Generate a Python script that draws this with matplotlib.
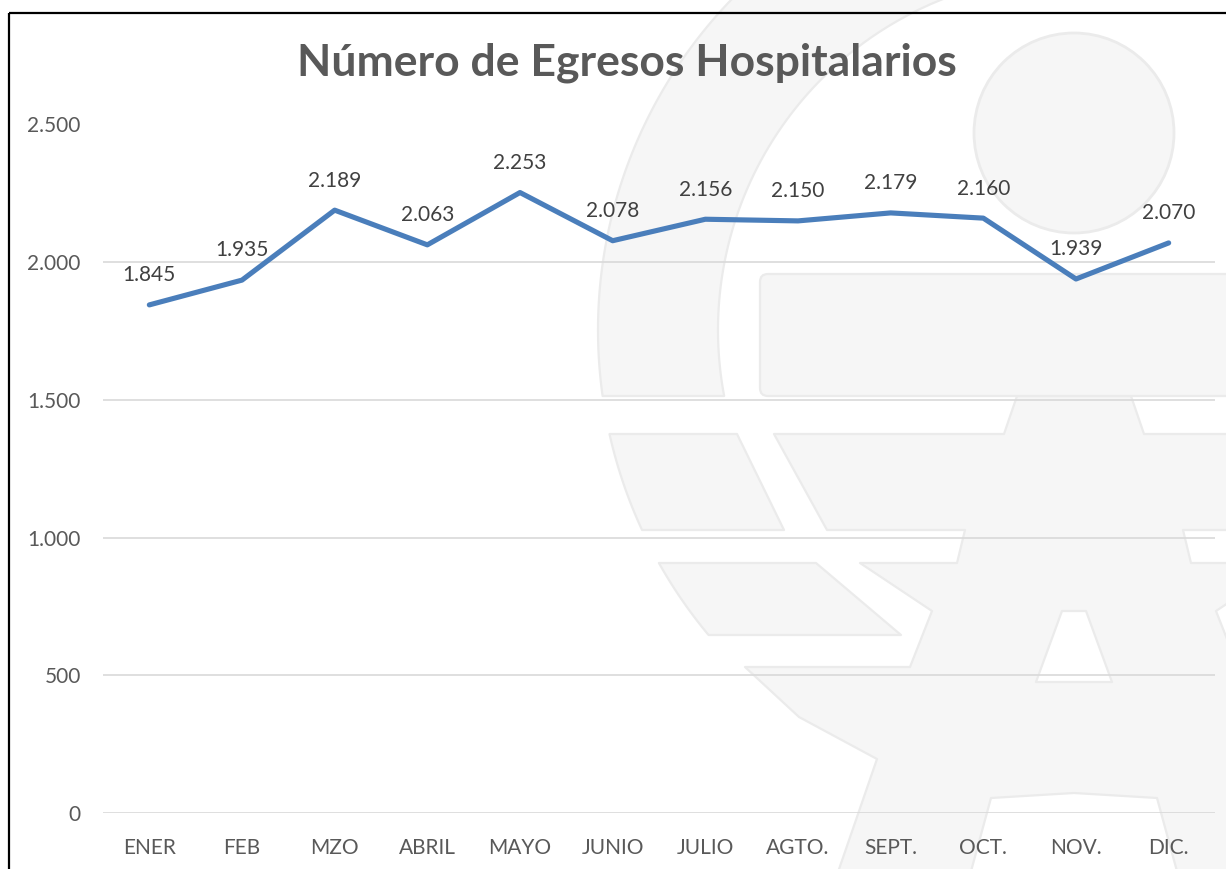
import numpy as np
import matplotlib
matplotlib.use("Agg")
import matplotlib.pyplot as plt
from matplotlib.patches import Polygon, Circle, FancyBboxPatch

months = ["ENER", "FEB", "MZO", "ABRIL", "MAYO", "JUNIO", "JULIO", "AGTO.",
          "SEPT.", "OCT.", "NOV.", "DIC."]
egresos = [1845, 1935, 2189, 2063, 2253, 2078, 2156, 2150, 2179, 2160, 1939, 2070]
y_ticks = [0, 500, 1000, 1500, 2000, 2500]
y_tick_labels = ["0", "500", "1.000", "1.500", "2.000", "2.500"]
title = "Número de Egresos Hospitalarios"

W, H = 1226, 869
fig = plt.figure(figsize=(W / 100, H / 100), dpi=100)
fig.patch.set_facecolor("white")

# ---- background watermark (decorative) in pixel space ----
bg = fig.add_axes([0, 0, 1, 1], zorder=0)
bg.set_xlim(0, W)
bg.set_ylim(H, 0)
bg.axis("off")
wm_face = "#F6F6F6"
wm_edge = "#EBEBEB"
CX, CY, RO, RI = 1074, 330, 476, 356


def outer_x(y):
    return CX - np.sqrt(RO ** 2 - (y - CY) ** 2)


def inner_x(y):
    return CX - np.sqrt(RI ** 2 - (y - CY) ** 2)


def shape(pts):
    bg.add_patch(Polygon(pts, closed=True, fc=wm_face, ec=wm_edge, lw=1.6,
                         joinstyle="round"))


# ring, upper part (top of image to y=396)
ys = np.linspace(-40, 396, 80)
pts = [(outer_x(y), y) for y in ys] + [(inner_x(y), y) for y in ys[::-1]]
shape(pts)
# ring segment B
ys = np.linspace(434, 530, 30)
shape([(outer_x(y), y) for y in ys] + [(784, 530), (737, 434)])
# ring segment C
ys = np.linspace(563, 635, 30)
shape([(outer_x(y), y) for y in ys] + [(901, 635), (816, 563)])
# circle
bg.add_patch(Circle((1074, 133), 100, fc=wm_face, ec=wm_edge, lw=2))
# star (symmetric about x=1074)
left_half = [(1017, 396), (1004, 434), (774, 434), (827, 530), (965, 530), (957, 563),
             (860, 563), (932, 611), (910, 667), (745, 667), (799, 717), (877, 759),
             (837, 875), (970, 875), (991, 798)]
right_half = [(2 * CX - x, y) for (x, y) in left_half[::-1]]
shape(left_half + [(1074, 793)] + right_half)
# bar
bg.add_patch(FancyBboxPatch((760, 274), 520, 122, boxstyle="round,pad=0,rounding_size=8",
                            fc=wm_face, ec=wm_edge, lw=1.6))
# triangle hole
bg.add_patch(Polygon([(1062, 611), (1086, 611), (1112, 682), (1036, 682)], closed=True,
                     fc="white", ec=wm_edge, lw=1.6, joinstyle="round"))

# chart border
bg.plot([8.5, 8.5], [12.5, H], color="black", lw=1.6, solid_capstyle="butt")
bg.plot([8.5, W], [12.5, 12.5], color="black", lw=1.6, solid_capstyle="butt")

# ---- main chart ----
left, right = 103 / W, 1215 / W
bottom, top = 1 - 813 / H, 1 - 124.5 / H
ax = fig.add_axes([left, bottom, right - left, top - bottom], zorder=2)
ax.patch.set_alpha(0)

x = np.arange(len(months))
ax.plot(x, egresos, color="#4A7EBB", lw=3.7, solid_joinstyle="round",
        solid_capstyle="round", zorder=3)
txt_color = "#595959"
font = "Lato"
for xi, v in zip(x, egresos):
    lab = f"{v:,}".replace(",", ".")
    ax.annotate(lab, (xi, v), xytext=(0, 17), textcoords="offset points",
                ha="center", va="baseline", fontsize=15, color="#404040",
                family=font)

ax.set_xlim(-0.5, len(months) - 0.5)
ax.set_ylim(0, 2500)
ax.set_yticks(y_ticks)
ax.set_yticklabels(y_tick_labels)
ax.set_xticks(x)
ax.set_xticklabels(months)
ax.grid(axis="y", color="#D9D9D9", lw=1.2)
ax.set_axisbelow(True)
for s in ax.spines.values():
    s.set_visible(False)
ax.tick_params(axis="both", length=0, labelsize=15, labelcolor=txt_color)
ax.tick_params(axis="y", pad=16)
ax.tick_params(axis="x", pad=18)
for lbl in ax.get_xticklabels() + ax.get_yticklabels():
    lbl.set_family(font)

fig.text(627 / W, 1 - 63 / H, title, ha="center", va="center", fontsize=32,
         fontweight="bold", color=txt_color, family=font)

fig.savefig("out.png", dpi=100, facecolor="white")
